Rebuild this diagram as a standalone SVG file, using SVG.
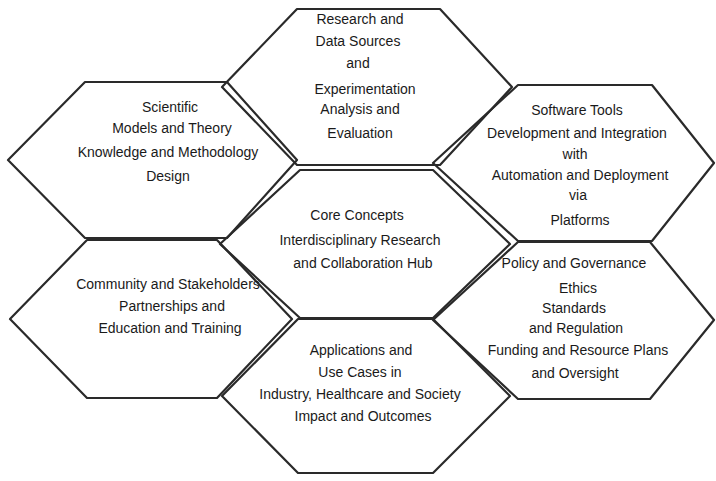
<svg xmlns="http://www.w3.org/2000/svg" width="716" height="481" viewBox="0 0 716 481">
<style>
.hex{fill:none;stroke:#2a2a2a;stroke-width:2.2;stroke-linejoin:round}
.t{font-family:"Liberation Sans",Arial,sans-serif;font-size:14px;fill:#1a1a1a;text-anchor:middle}
</style>
<rect width="716" height="481" fill="#ffffff"/>
<g id="hex-top">
<path class="hex" d="M222,87 L297,9 L440,9 L512,87 L440,165 L297,165 Z"/>
<text class="t" x="360" y="24">Research and</text>
<text class="t" x="358" y="46">Data Sources</text>
<text class="t" x="358" y="68">and</text>
<text class="t" x="365" y="94">Experimentation</text>
<text class="t" x="360" y="114">Analysis and</text>
<text class="t" x="360" y="138">Evaluation</text>
</g>
<g id="hex-upper-left">
<path class="hex" d="M8,160 L85,82 L227,82 L297,160 L227,238 L85,238 Z"/>
<text class="t" x="170" y="112">Scientific</text>
<text class="t" x="172" y="133">Models and Theory</text>
<text class="t" x="168" y="157">Knowledge and Methodology</text>
<text class="t" x="168" y="181">Design</text>
</g>
<g id="hex-upper-right">
<path class="hex" d="M433,163 L518,85 L652,85 L714,163 L652,241 L518,241 Z"/>
<text class="t" x="577" y="115">Software Tools</text>
<text class="t" x="577" y="138">Development and Integration</text>
<text class="t" x="575" y="159">with</text>
<text class="t" x="580" y="180">Automation and Deployment</text>
<text class="t" x="578" y="200">via</text>
<text class="t" x="580" y="225">Platforms</text>
</g>
<g id="hex-center">
<path class="hex" d="M220,244 L300,170 L433,170 L510,244 L433,318 L300,318 Z"/>
<text class="t" x="357" y="220">Core Concepts</text>
<text class="t" x="360" y="245">Interdisciplinary Research</text>
<text class="t" x="363" y="268">and Collaboration Hub</text>
</g>
<g id="hex-lower-left">
<path class="hex" d="M10,319 L87,240 L217,240 L292,319 L217,398 L87,398 Z"/>
<text class="t" x="168" y="289">Community and Stakeholders</text>
<text class="t" x="172" y="311">Partnerships and</text>
<text class="t" x="170" y="333">Education and Training</text>
</g>
<g id="hex-lower-right">
<path class="hex" d="M433,320 L518,242 L650,242 L714,320 L650,399 L518,399 Z"/>
<text class="t" x="574" y="268">Policy and Governance</text>
<text class="t" x="578" y="293">Ethics</text>
<text class="t" x="574" y="313">Standards</text>
<text class="t" x="576" y="333">and Regulation</text>
<text class="t" x="578" y="355">Funding and Resource Plans</text>
<text class="t" x="575" y="378">and Oversight</text>
</g>
<g id="hex-bottom">
<path class="hex" d="M222,396 L298,319 L433,319 L510,396 L433,473 L298,473 Z"/>
<text class="t" x="361" y="355">Applications and</text>
<text class="t" x="360" y="377">Use Cases in</text>
<text class="t" x="360" y="399">Industry, Healthcare and Society</text>
<text class="t" x="363" y="421">Impact and Outcomes</text>
</g>
<g id="connectors"></g>
</svg>
